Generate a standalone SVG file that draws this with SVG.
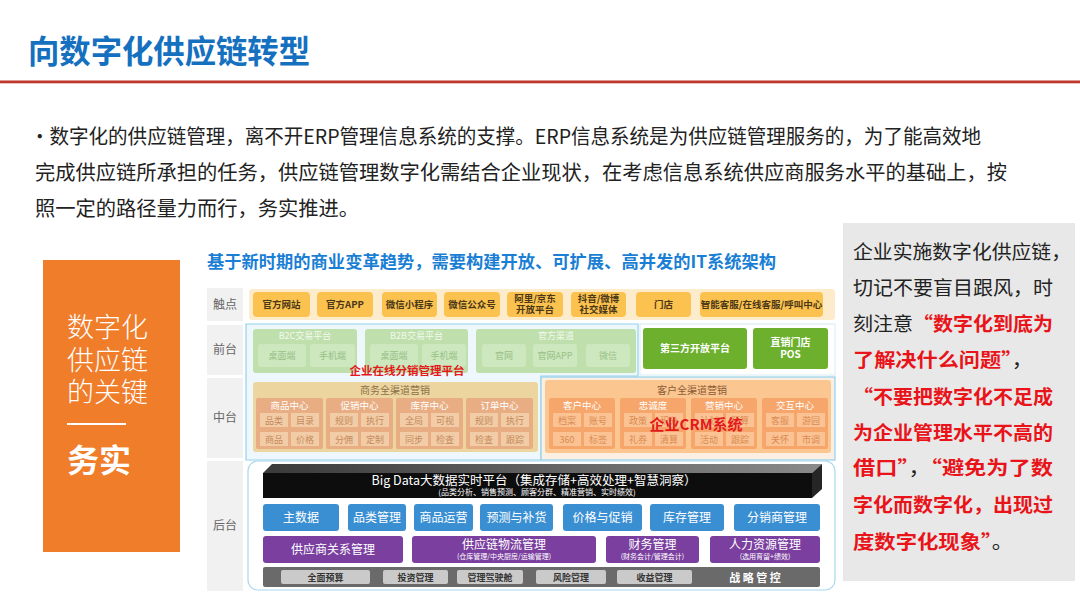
<svg xmlns="http://www.w3.org/2000/svg" width="1080" height="608" viewBox="0 0 1080 608">
<defs>
<style>
text{font-family:"Noto Sans CJK SC","Noto Sans",sans-serif;}
.c{text-anchor:middle}
.lbl{fill:#f1f1f1}
.lt{font-size:12px;fill:#666}
.tb{fill:#fbc24f}
.tt{font-size:9.5px;font-weight:bold;fill:#4a3718}
.gg{fill:#bfe0ac}
.gs{fill:#cde8bf}
.gt{font-size:9px;fill:#f2f9ee}
.gst{font-size:9px;fill:#98c086}
.bg{fill:#6cb02e}
.bgt{font-size:10px;font-weight:bold;fill:#fff}
.sw{fill:#e9ad84}
.swi{fill:#f2cca6}
.swh{font-size:9.5px;fill:#fff}
.swt{font-size:9px;fill:#c58a5c}
.cr{fill:#f7a66b}
.cri{fill:#fbc393}
.crt{font-size:9px;fill:#da8a52}
.blu{fill:#3a8fd3}
.blt{font-size:12px;fill:#fff}
.pur{fill:#7b3fa0}
.put{font-size:12px;fill:#fff}
.pus{font-size:7px;fill:#fff}
.gb{fill:#cacaca}
.gbt{font-size:9px;font-weight:bold;fill:#333}
.red{fill:#e3191c;font-weight:bold}
.rt{font-size:19px;fill:#222}
.rr{fill:#e8141a;font-weight:bold}
</style>
<linearGradient id="topg" x1="0" y1="0" x2="1" y2="0">
<stop offset="0" stop-color="#3a3a3a"/><stop offset="1" stop-color="#8a8a8a"/>
</linearGradient>
</defs>
<rect width="1080" height="608" fill="#fff"/>

<g id="title">
<text x="28" y="63" font-size="32" font-weight="bold" fill="#1570c0" textLength="282" lengthAdjust="spacingAndGlyphs">向数字化供应链转型</text>
<rect x="0" y="80.5" width="1080" height="2.5" fill="#c0352d"/>
<rect x="0" y="83" width="1080" height="1" fill="#e9c4c2"/>
</g>

<g id="paragraph" font-size="20" fill="#222">
<text x="30" y="144" textLength="951" lengthAdjust="spacingAndGlyphs">•数字化的供应链管理，离不开ERP管理信息系统的支撑。ERP信息系统是为供应链管理服务的，为了能高效地</text>
<text x="35" y="180" textLength="972" lengthAdjust="spacingAndGlyphs">完成供应链所承担的任务，供应链管理数字化需结合企业现状，在考虑信息系统供应商服务水平的基础上，按</text>
<text x="35" y="216" textLength="324" lengthAdjust="spacingAndGlyphs">照一定的路径量力而行，务实推进。</text>
</g>

<g id="key-box">
<rect x="43" y="260" width="137" height="292" fill="#f07d2a"/>
<text x="67" y="337" font-size="27" font-weight="300" fill="#fff">数字化</text>
<text x="67" y="370" font-size="27" font-weight="300" fill="#fff">供应链</text>
<text x="67" y="402" font-size="27" font-weight="300" fill="#fff">的关键</text>
<line x1="67" y1="424" x2="126" y2="424" stroke="#fff" stroke-width="2"/>
<text x="67" y="472" font-size="32" font-weight="bold" fill="#fff">务实</text>
</g>

<g id="arch-title">
<text x="207" y="268" font-size="17" font-weight="bold" fill="#1a7fd4" textLength="569" lengthAdjust="spacingAndGlyphs">基于新时期的商业变革趋势，需要构建开放、可扩展、高并发的IT系统架构</text>
</g>

<g id="labels">
<rect class="lbl" x="207" y="288" width="36" height="33"/>
<text class="lt c" x="225" y="309">触点</text>
<rect class="lbl" x="207" y="325" width="36" height="50"/>
<text class="lt c" x="225" y="354">前台</text>
<rect class="lbl" x="207" y="378" width="36" height="80"/>
<text class="lt c" x="225" y="422">中台</text>
<rect class="lbl" x="207" y="461" width="36" height="130"/>
<text class="lt c" x="225" y="530">后台</text>
</g>

<g id="touchpoints">
<rect x="249" y="289" width="586" height="31" rx="3" fill="#fdeccc"/>
<rect class="tb" x="253" y="292" width="57" height="25" rx="4"/><text class="tt c" x="281.5" y="308">官方网站</text>
<rect class="tb" x="317" y="292" width="56" height="25" rx="4"/><text class="tt c" x="345" y="308">官方APP</text>
<rect class="tb" x="382" y="292" width="55" height="25" rx="4"/><text class="tt c" x="409.5" y="308">微信小程序</text>
<rect class="tb" x="444" y="292" width="56" height="25" rx="4"/><text class="tt c" x="472" y="308">微信公众号</text>
<rect class="tb" x="507" y="292" width="56" height="25" rx="4"/><text class="tt c" x="535" y="301.5">阿里/京东</text><text class="tt c" x="535" y="313">开放平台</text>
<rect class="tb" x="571" y="292" width="55" height="25" rx="4"/><text class="tt c" x="598.5" y="301.5">抖音/微博</text><text class="tt c" x="598.5" y="313">社交媒体</text>
<rect class="tb" x="636" y="292" width="55" height="25" rx="4"/><text class="tt c" x="663.5" y="308">门店</text>
<rect class="tb" x="700" y="292" width="123" height="25" rx="4"/><text class="tt c" x="761.5" y="308">智能客服/在线客服/呼叫中心</text>
</g>

<g id="online-distribution">
<path d="M246,324 H638 V376 H541 V460 H246 Z" fill="#eef8fc" stroke="#93d2ec" stroke-width="1.2"/>
</g>

<g id="front">
<rect x="640" y="324" width="195" height="51" fill="#fff" stroke="#d4ecf4"/>
<rect class="gg" x="253" y="329" width="104" height="44" rx="3"/>
<text class="gt c" x="305" y="339">B2C交易平台</text>
<rect class="gs" x="258" y="344" width="48" height="23" rx="3"/><text class="gst c" x="282" y="359">桌面端</text>
<rect class="gs" x="310" y="344" width="45" height="23" rx="3"/><text class="gst c" x="332.5" y="359">手机端</text>
<rect class="gg" x="365" y="329" width="103" height="44" rx="3"/>
<text class="gt c" x="416.5" y="339">B2B交易平台</text>
<rect class="gs" x="370" y="344" width="48" height="23" rx="3"/><text class="gst c" x="394" y="359">桌面端</text>
<rect class="gs" x="422" y="344" width="44" height="23" rx="3"/><text class="gst c" x="444" y="359">手机端</text>
<rect class="gg" x="476" y="329" width="160" height="44" rx="3"/>
<text class="gt c" x="556" y="339">官方渠道</text>
<rect class="gs" x="482" y="344" width="44" height="23" rx="3"/><text class="gst c" x="504" y="359">官网</text>
<rect class="gs" x="533" y="344" width="44" height="23" rx="3"/><text class="gst c" x="555" y="359">官网APP</text>
<rect class="gs" x="586" y="344" width="44" height="23" rx="3"/><text class="gst c" x="608" y="359">微信</text>
<rect class="bg" x="643" y="328" width="104" height="41" rx="3"/><text class="bgt c" x="695" y="352">第三方开放平台</text>
<rect class="bg" x="753" y="328" width="75" height="41" rx="3"/><text class="bgt c" x="790.5" y="346">直销门店</text><text class="bgt c" x="790.5" y="358">POS</text>
<text class="red c" x="407" y="375" font-size="11.5">企业在线分销管理平台</text>
</g>

<g id="middle-commerce">
<rect x="253" y="382" width="285" height="70" rx="3" fill="#ecd59f"/>
<text class="c" x="395" y="394" font-size="10" fill="#8b7048">商务全渠道营销</text>
<rect class="sw" x="256" y="398" width="67" height="51" rx="2"/><text class="swh c" x="289.5" y="408.5">商品中心</text>
<rect class="swi" x="260" y="413" width="28" height="14"/><text class="swt c" x="274" y="423.5">品类</text>
<rect class="swi" x="291" y="413" width="28" height="14"/><text class="swt c" x="305" y="423.5">目录</text>
<rect class="swi" x="260" y="432" width="28" height="14"/><text class="swt c" x="274" y="442.5">商品</text>
<rect class="swi" x="291" y="432" width="28" height="14"/><text class="swt c" x="305" y="442.5">价格</text>
<rect class="sw" x="326" y="398" width="67" height="51" rx="2"/><text class="swh c" x="359.5" y="408.5">促销中心</text>
<rect class="swi" x="330" y="413" width="28" height="14"/><text class="swt c" x="344" y="423.5">规则</text>
<rect class="swi" x="361" y="413" width="28" height="14"/><text class="swt c" x="375" y="423.5">执行</text>
<rect class="swi" x="330" y="432" width="28" height="14"/><text class="swt c" x="344" y="442.5">分佣</text>
<rect class="swi" x="361" y="432" width="28" height="14"/><text class="swt c" x="375" y="442.5">定制</text>
<rect class="sw" x="396" y="398" width="67" height="51" rx="2"/><text class="swh c" x="429.5" y="408.5">库存中心</text>
<rect class="swi" x="400" y="413" width="28" height="14"/><text class="swt c" x="414" y="423.5">全局</text>
<rect class="swi" x="431" y="413" width="28" height="14"/><text class="swt c" x="445" y="423.5">可视</text>
<rect class="swi" x="400" y="432" width="28" height="14"/><text class="swt c" x="414" y="442.5">同步</text>
<rect class="swi" x="431" y="432" width="28" height="14"/><text class="swt c" x="445" y="442.5">检查</text>
<rect class="sw" x="466" y="398" width="67" height="51" rx="2"/><text class="swh c" x="499.5" y="408.5">订单中心</text>
<rect class="swi" x="470" y="413" width="28" height="14"/><text class="swt c" x="484" y="423.5">规则</text>
<rect class="swi" x="501" y="413" width="28" height="14"/><text class="swt c" x="515" y="423.5">执行</text>
<rect class="swi" x="470" y="432" width="28" height="14"/><text class="swt c" x="484" y="442.5">检查</text>
<rect class="swi" x="501" y="432" width="28" height="14"/><text class="swt c" x="515" y="442.5">跟踪</text>
</g>

<g id="middle-crm">
<rect x="541" y="377" width="294" height="83" fill="#fbeee2" stroke="#93d2ec" stroke-width="1.2"/>
<rect x="545" y="380" width="286" height="73" rx="3" fill="#fbc690"/>
<text class="c" x="692" y="394" font-size="10" fill="#8a5a35">客户全渠道营销</text>
<rect class="cr" x="549" y="398" width="66" height="51" rx="2"/><text class="swh c" x="582" y="408.5">客户中心</text>
<rect class="cri" x="553" y="413" width="28" height="14"/><text class="crt c" x="567" y="423.5">档案</text>
<rect class="cri" x="584" y="413" width="28" height="14"/><text class="crt c" x="598" y="423.5">账号</text>
<rect class="cri" x="553" y="432" width="28" height="14"/><text class="crt c" x="567" y="442.5">360</text>
<rect class="cri" x="584" y="432" width="28" height="14"/><text class="crt c" x="598" y="442.5">标签</text>
<rect class="cr" x="620" y="398" width="66" height="51" rx="2"/><text class="swh c" x="653" y="408.5">忠诚度</text>
<rect class="cri" x="624" y="413" width="28" height="14"/><text class="crt c" x="638" y="423.5">政策</text>
<rect class="cri" x="655" y="413" width="28" height="14"/><text class="crt c" x="669" y="423.5">积分</text>
<rect class="cri" x="624" y="432" width="28" height="14"/><text class="crt c" x="638" y="442.5">礼券</text>
<rect class="cri" x="655" y="432" width="28" height="14"/><text class="crt c" x="669" y="442.5">清算</text>
<rect class="cr" x="691" y="398" width="66" height="51" rx="2"/><text class="swh c" x="724" y="408.5">营销中心</text>
<rect class="cri" x="695" y="413" width="28" height="14"/><text class="crt c" x="709" y="423.5">计划</text>
<rect class="cri" x="726" y="413" width="28" height="14"/><text class="crt c" x="740" y="423.5">预算</text>
<rect class="cri" x="695" y="432" width="28" height="14"/><text class="crt c" x="709" y="442.5">活动</text>
<rect class="cri" x="726" y="432" width="28" height="14"/><text class="crt c" x="740" y="442.5">跟踪</text>
<rect class="cr" x="762" y="398" width="66" height="51" rx="2"/><text class="swh c" x="795" y="408.5">交互中心</text>
<rect class="cri" x="766" y="413" width="28" height="14"/><text class="crt c" x="780" y="423.5">客服</text>
<rect class="cri" x="797" y="413" width="28" height="14"/><text class="crt c" x="811" y="423.5">游园</text>
<rect class="cri" x="766" y="432" width="28" height="14"/><text class="crt c" x="780" y="442.5">关怀</text>
<rect class="cri" x="797" y="432" width="28" height="14"/><text class="crt c" x="811" y="442.5">市调</text>
<text class="red c" x="696" y="430" font-size="15">企业CRM系统</text>
</g>

<g id="backend">
<rect x="248" y="461" width="587" height="129" rx="10" fill="#fff" stroke="#a8d8ee" stroke-width="1.2"/>
<polygon points="263,473 272,464 822,464 812,473" fill="url(#topg)"/>
<polygon points="812,473 822,464 822,489 812,498" fill="#262626"/>
<rect x="263" y="473" width="549" height="25" fill="#0d0d0d"/>
<text class="c" x="534" y="485" font-size="12.5" fill="#fff">Big Data大数据实时平台（集成存储+高效处理+智慧洞察）</text>
<text class="c" x="537" y="495" font-size="8" fill="#fff">(品类分析、销售预测、顾客分群、精准营销、实时绩效)</text>

<rect class="blu" x="263" y="504" width="76" height="27" rx="3"/><text class="blt c" x="301" y="522">主数据</text>
<rect class="blu" x="348" y="504" width="58" height="27" rx="3"/><text class="blt c" x="377" y="522">品类管理</text>
<rect class="blu" x="414" y="504" width="59" height="27" rx="3"/><text class="blt c" x="443.5" y="522">商品运营</text>
<rect class="blu" x="480" y="504" width="73" height="27" rx="3"/><text class="blt c" x="516.5" y="522">预测与补货</text>
<rect class="blu" x="563" y="504" width="79" height="27" rx="3"/><text class="blt c" x="602.5" y="522">价格与促销</text>
<rect class="blu" x="650" y="504" width="74" height="27" rx="3"/><text class="blt c" x="687" y="522">库存管理</text>
<rect class="blu" x="734" y="504" width="86" height="27" rx="3"/><text class="blt c" x="777" y="522">分销商管理</text>

<rect class="pur" x="263" y="536" width="140" height="27" rx="3"/><text class="put c" x="333" y="554">供应商关系管理</text>
<rect class="pur" x="412" y="536" width="184" height="27" rx="3"/><text class="put c" x="504" y="549">供应链物流管理</text><text class="pus c" x="504" y="559">(仓库管理/中央厨房/运输管理)</text>
<rect class="pur" x="606" y="536" width="93" height="27" rx="3"/><text class="put c" x="652.5" y="549">财务管理</text><text class="pus c" x="652.5" y="559">(财务会计/管理会计)</text>
<rect class="pur" x="710" y="536" width="110" height="27" rx="3"/><text class="put c" x="765" y="549">人力资源管理</text><text class="pus c" x="765" y="559">(选用育留+绩效)</text>

<rect x="263" y="567" width="557" height="20" rx="2" fill="#6a6a6a"/>
<rect class="gb" x="281" y="570" width="89" height="14" rx="2"/><text class="gbt c" x="325.5" y="580.5">全面预算</text>
<rect class="gb" x="383" y="570" width="65" height="14" rx="2"/><text class="gbt c" x="415.5" y="580.5">投资管理</text>
<rect class="gb" x="457" y="570" width="66" height="14" rx="2"/><text class="gbt c" x="490" y="580.5">管理驾驶舱</text>
<rect class="gb" x="536" y="570" width="70" height="14" rx="2"/><text class="gbt c" x="571" y="580.5">风险管理</text>
<rect class="gb" x="617" y="570" width="75" height="14" rx="2"/><text class="gbt c" x="654.5" y="580.5">收益管理</text>
<text class="c" x="755" y="581.5" font-size="11" font-weight="bold" fill="#fff">战 略 管 控</text>
</g>

<g id="note">
<rect x="843" y="223" width="232" height="358" fill="#e8e8e8"/>
<text class="rt" x="853" y="259" textLength="218" lengthAdjust="spacingAndGlyphs">企业实施数字化供应链，</text>
<text class="rt" x="853" y="295" textLength="200" lengthAdjust="spacingAndGlyphs">切记不要盲目跟风，时</text>
<text class="rt" x="853" y="331" textLength="200" lengthAdjust="spacingAndGlyphs">刻注意<tspan class="rr">“数字化到底为</tspan></text>
<text class="rt" x="853" y="367" textLength="180" lengthAdjust="spacingAndGlyphs"><tspan class="rr">了解决什么问题”</tspan>，</text>
<text class="rt" x="853" y="404" textLength="200" lengthAdjust="spacingAndGlyphs"><tspan class="rr">“不要把数字化不足成</tspan></text>
<text class="rt" x="853" y="440" textLength="200" lengthAdjust="spacingAndGlyphs"><tspan class="rr">为企业管理水平不高的</tspan></text>
<text class="rt" x="853" y="475" textLength="200" lengthAdjust="spacingAndGlyphs"><tspan class="rr">借口”</tspan>，<tspan class="rr">“避免为了数</tspan></text>
<text class="rt" x="853" y="512" textLength="200" lengthAdjust="spacingAndGlyphs"><tspan class="rr">字化而数字化，出现过</tspan></text>
<text class="rt" x="853" y="549" textLength="160" lengthAdjust="spacingAndGlyphs"><tspan class="rr">度数字化现象”</tspan>。</text>
</g>

<g id="connectors"></g>
</svg>
